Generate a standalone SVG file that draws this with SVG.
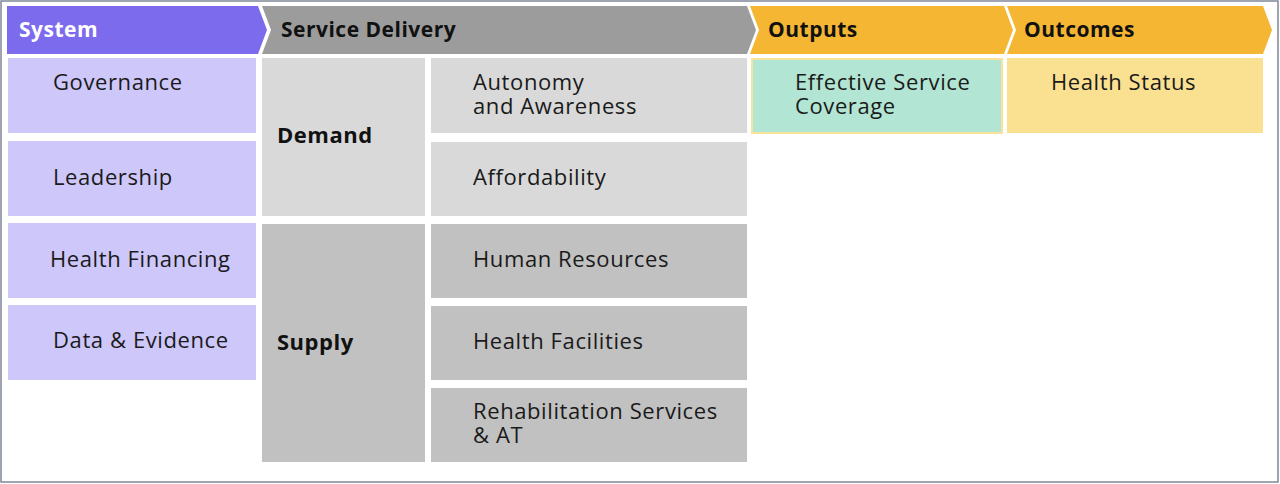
<svg xmlns="http://www.w3.org/2000/svg" width="1280" height="484" viewBox="0 0 1280 484">
<style>
.t{font-family:"Open Sans","Liberation Sans",sans-serif;font-size:22px;letter-spacing:0.6px;fill:#1a1a1a}
.h{font-family:"Open Sans","Liberation Sans",sans-serif;font-size:21px;letter-spacing:0.5px;font-weight:bold;fill:#111}
.sys{fill:#cec7fa}
.dem{fill:#d9d9d9}
.sup{fill:#c1c1c1}
</style>
<rect x="1" y="1" width="1277" height="481" fill="#fff" stroke="#7f8896" stroke-width="1.5"/>
<g id="headers">
<g id="h-system"><path d="M7 6 H258 L267 30 L258 54 H7 Z" fill="#7d6bee"/><text class="h" x="19" y="37" style="fill:#fff">System</text></g>
<g id="h-service"><path d="M262 6 H747 L756 30 L747 54 H262 L271 30 Z" fill="#9c9c9c"/><text class="h" x="281" y="37">Service Delivery</text></g>
<g id="h-outputs"><path d="M750 6 H1004 L1013 30 L1004 54 H750 L759 30 Z" fill="#f4b633"/><text class="h" x="768" y="37">Outputs</text></g>
<g id="h-outcomes"><path d="M1007 6 H1263 L1272 30 L1263 54 H1007 L1016 30 Z" fill="#f4b633"/><text class="h" x="1024" y="37">Outcomes</text></g>
</g>
<g id="governance"><rect class="sys" x="8" y="58" width="248" height="75"/><text class="t" x="53" y="90">Governance</text></g>
<g id="leadership"><rect class="sys" x="8" y="141" width="248" height="75"/><text class="t" x="53" y="185">Leadership</text></g>
<g id="health-financing"><rect class="sys" x="8" y="223" width="248" height="75"/><text class="t" x="50" y="267">Health Financing</text></g>
<g id="data-evidence"><rect class="sys" x="8" y="305" width="248" height="75"/><text class="t" x="53" y="348">Data &amp; Evidence</text></g>
<g id="demand"><rect class="dem" x="262" y="58" width="163" height="158"/><text class="h" x="277" y="143" style="font-size:22px">Demand</text></g>
<g id="supply"><rect class="sup" x="262" y="224" width="163" height="238"/><text class="h" x="277" y="350" style="font-size:22px">Supply</text></g>
<g id="autonomy"><rect class="dem" x="431" y="58" width="316" height="75"/><text class="t" x="473" y="90">Autonomy</text><text class="t" x="473" y="114">and Awareness</text></g>
<g id="affordability"><rect class="dem" x="431" y="142" width="316" height="74"/><text class="t" x="473" y="185">Affordability</text></g>
<g id="human-resources"><rect class="sup" x="431" y="224" width="316" height="74"/><text class="t" x="473" y="267">Human Resources</text></g>
<g id="health-facilities"><rect class="sup" x="431" y="306" width="316" height="74"/><text class="t" x="473" y="349">Health Facilities</text></g>
<g id="rehab"><rect class="sup" x="431" y="388" width="316" height="74"/><text class="t" x="473" y="419">Rehabilitation Services</text><text class="t" x="473" y="443">&amp; AT</text></g>
<g id="coverage"><rect x="752" y="59" width="250" height="74" fill="#b2e5d3" stroke="#f8e39c" stroke-width="2"/><text class="t" x="795" y="90">Effective Service</text><text class="t" x="795" y="114">Coverage</text></g>
<g id="health-status"><rect x="1007" y="58" width="256" height="75" fill="#fae192"/><text class="t" x="1051" y="90">Health Status</text></g>
<g id="connectors"></g>
</svg>
